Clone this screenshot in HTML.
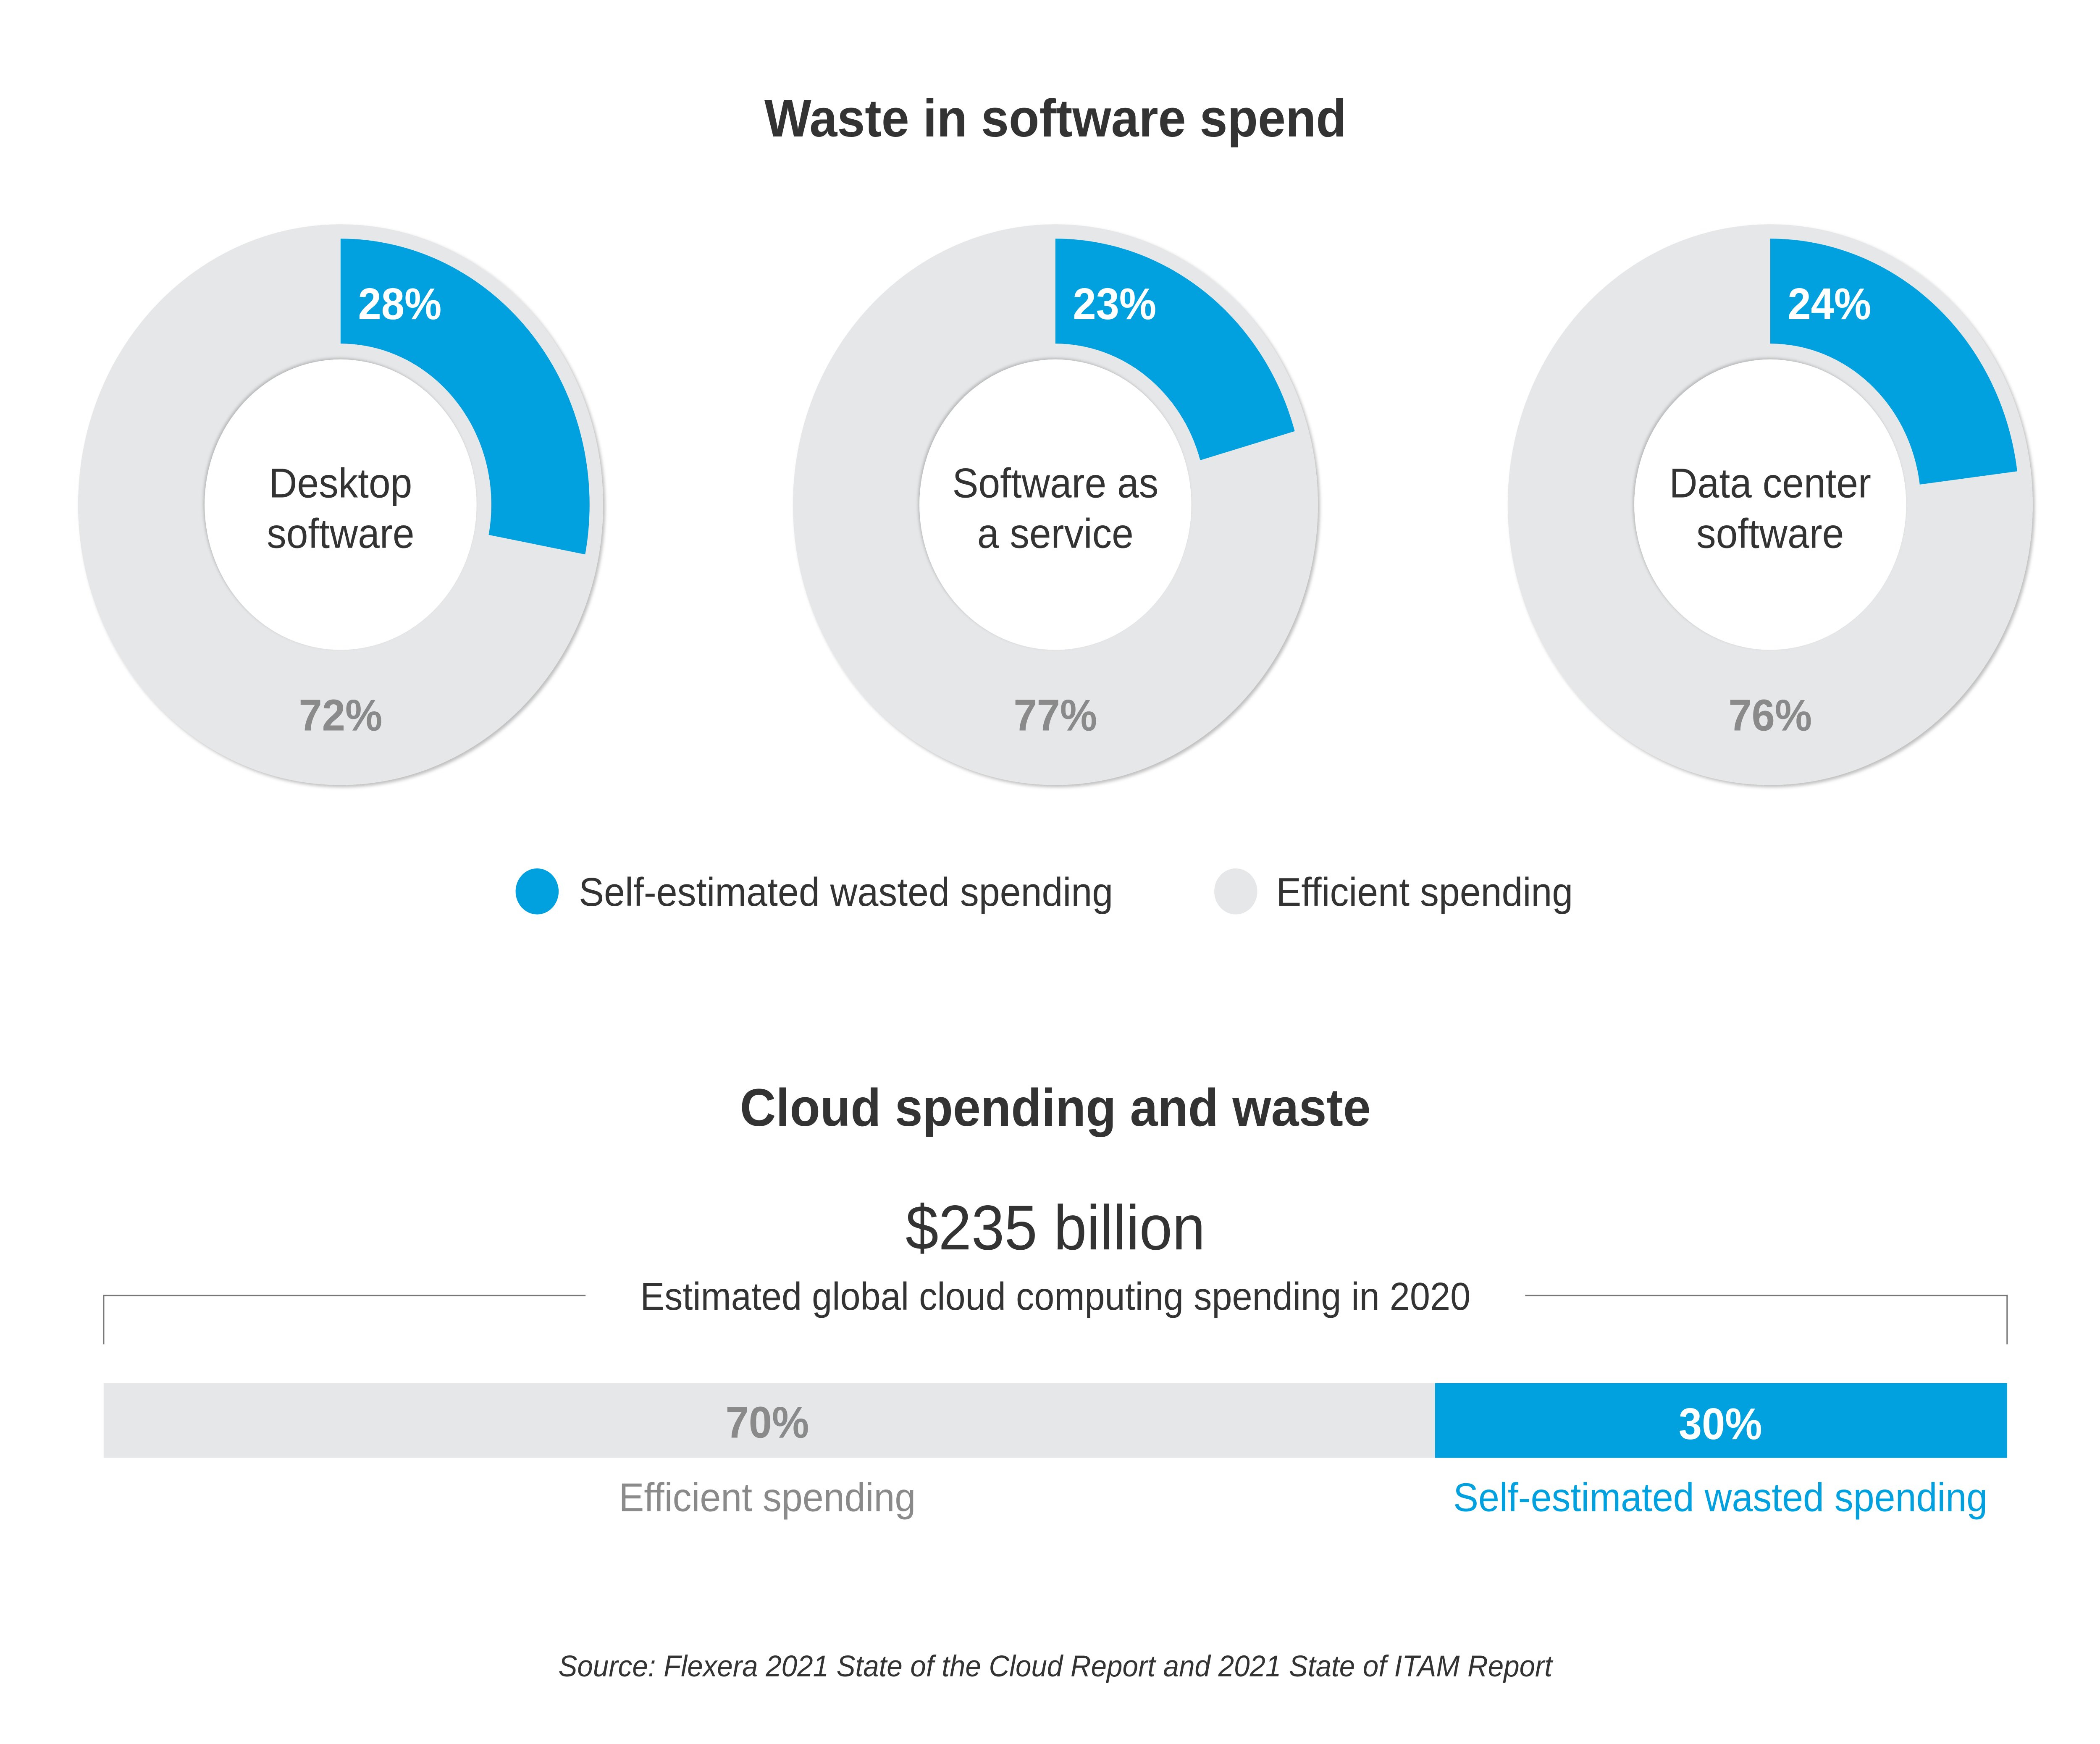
<!DOCTYPE html>
<html><head><meta charset="utf-8"><style>
html,body{margin:0;padding:0;background:#fff;width:100%;height:100%;overflow:hidden}
svg{display:block;width:100vw;height:100vh}
text{font-family:"Liberation Sans",sans-serif}
</style></head><body>
<svg viewBox="0 0 1560 1213" preserveAspectRatio="none" xmlns="http://www.w3.org/2000/svg">
<defs>
<filter id="sh" x="-10%" y="-10%" width="120%" height="120%">
<feDropShadow dx="1.5" dy="1.5" stdDeviation="1.2" flood-color="#000" flood-opacity="0.25"/>
</filter>
<filter id="shi" x="-10%" y="-10%" width="120%" height="120%">
<feDropShadow dx="-1" dy="-1" stdDeviation="1" flood-color="#000" flood-opacity="0.2"/>
</filter>
</defs>
<rect width="1560" height="1213" fill="#fff"/>
<text x="784" y="95" text-anchor="middle" font-size="37" font-weight="bold" fill="#333">Waste in software spend</text>

<g transform="translate(253,351)">
<circle r="195" fill="#e6e7e8" filter="url(#sh)"/>
<path d="M0,-185 A185,185 0 0 1 181.7,34.6 L110,21 A112,112 0 0 0 0,-112 Z" fill="#00a1de"/>
<circle r="101" fill="#fff" filter="url(#shi)"/>
<text x="44" y="-129" text-anchor="middle" font-size="31" font-weight="bold" fill="#fff">28%</text>
<text x="0" y="157" text-anchor="middle" font-size="31" font-weight="bold" fill="#8a8a8a">72%</text>
<text x="0" y="-5" text-anchor="middle" font-size="29" fill="#333">Desktop</text>
<text x="0" y="30" text-anchor="middle" font-size="29" fill="#333">software</text>
</g>
<g transform="translate(784,351)">
<circle r="195" fill="#e6e7e8" filter="url(#sh)"/>
<path d="M0,-185 A185,185 0 0 1 177.8,-51.1 L107.6,-30.9 A112,112 0 0 0 0,-112 Z" fill="#00a1de"/>
<circle r="101" fill="#fff" filter="url(#shi)"/>
<text x="44" y="-129" text-anchor="middle" font-size="31" font-weight="bold" fill="#fff">23%</text>
<text x="0" y="157" text-anchor="middle" font-size="31" font-weight="bold" fill="#8a8a8a">77%</text>
<text x="0" y="-5" text-anchor="middle" font-size="29" fill="#333">Software as</text>
<text x="0" y="30" text-anchor="middle" font-size="29" fill="#333">a service</text>
</g>
<g transform="translate(1315,351)">
<circle r="195" fill="#e6e7e8" filter="url(#sh)"/>
<path d="M0,-185 A185,185 0 0 1 183.5,-23.2 L111.1,-14 A112,112 0 0 0 0,-112 Z" fill="#00a1de"/>
<circle r="101" fill="#fff" filter="url(#shi)"/>
<text x="44" y="-129" text-anchor="middle" font-size="31" font-weight="bold" fill="#fff">24%</text>
<text x="0" y="157" text-anchor="middle" font-size="31" font-weight="bold" fill="#8a8a8a">76%</text>
<text x="0" y="-5" text-anchor="middle" font-size="29" fill="#333">Data center</text>
<text x="0" y="30" text-anchor="middle" font-size="29" fill="#333">software</text>
</g>

<circle cx="399" cy="620" r="16" fill="#00a1de"/>
<text x="430" y="630" font-size="28" fill="#333">Self-estimated wasted spending</text>
<circle cx="918" cy="620" r="16" fill="#e6e7e8"/>
<text x="948" y="630" font-size="28" fill="#333">Efficient spending</text>

<text x="784" y="783" text-anchor="middle" font-size="37" font-weight="bold" fill="#333">Cloud spending and waste</text>
<text x="784" y="869" text-anchor="middle" font-size="44" fill="#333">$235 billion</text>
<text x="784" y="911" text-anchor="middle" font-size="27" fill="#333">Estimated global cloud computing spending in 2020</text>
<path d="M77,935 V901 H435 M1133,901 H1491 V935" fill="none" stroke="#777" stroke-width="1"/>

<rect x="77" y="962" width="989" height="52" fill="#e6e7e8"/>
<rect x="1066" y="962" width="425" height="52" fill="#00a1de"/>
<text x="570" y="1000" text-anchor="middle" font-size="31" font-weight="bold" fill="#8a8a8a">70%</text>
<text x="1278" y="1001" text-anchor="middle" font-size="31" font-weight="bold" fill="#fff">30%</text>
<text x="570" y="1051" text-anchor="middle" font-size="28" fill="#8a8a8a">Efficient spending</text>
<text x="1278" y="1051" text-anchor="middle" font-size="28" fill="#00a1de">Self-estimated wasted spending</text>

<text x="784" y="1166" text-anchor="middle" font-size="21" font-style="italic" fill="#333">Source: Flexera 2021 State of the Cloud Report and 2021 State of ITAM Report</text>
</svg>
</body></html>
